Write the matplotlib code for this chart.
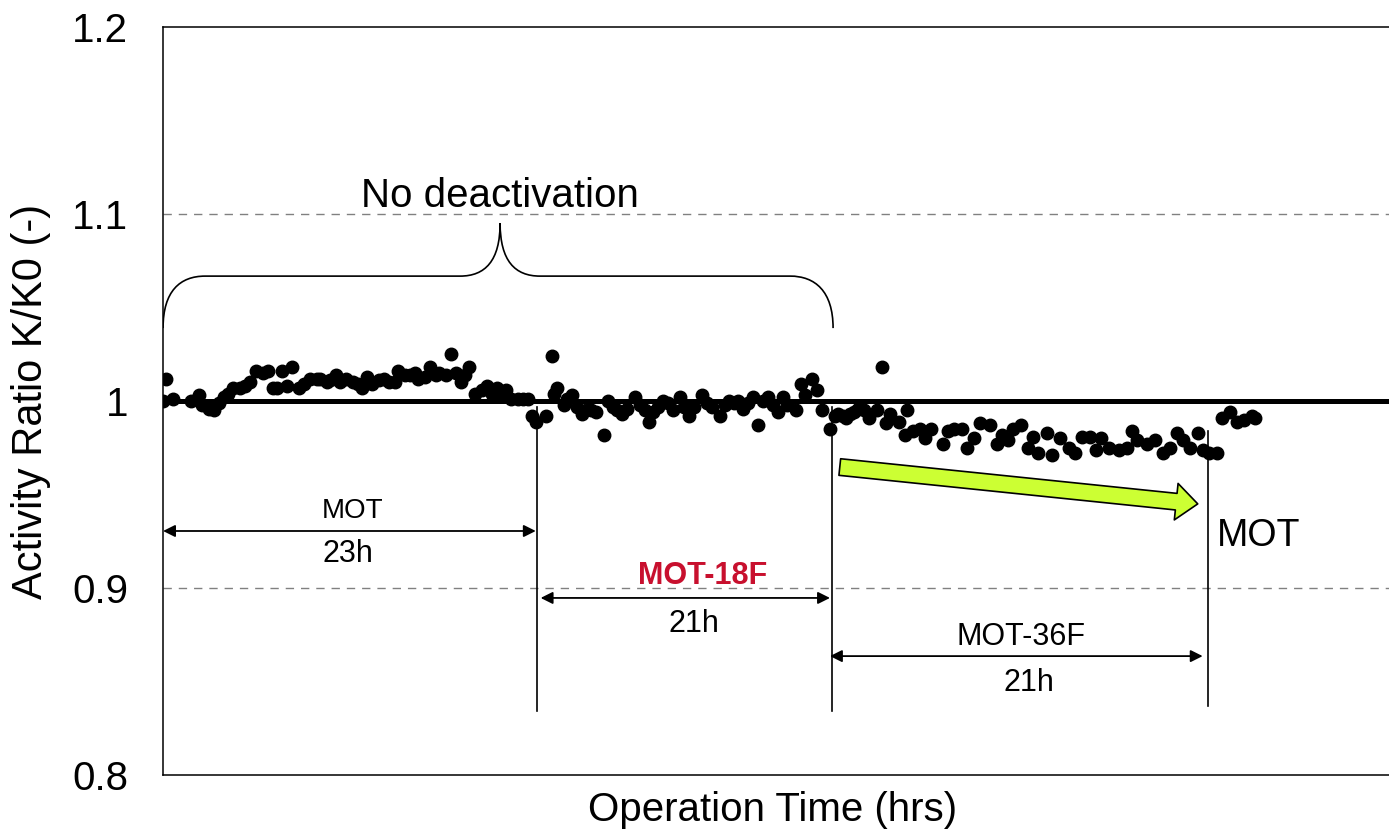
import numpy as np
import matplotlib
matplotlib.use("Agg")
import matplotlib.pyplot as plt
from matplotlib.path import Path
import matplotlib.patches as mpatches

plt.rcParams['font.family'] = ['Liberation Sans', 'DejaVu Sans']

# operation time (h) and activity ratio K/K0
hrs_mot = [0.0, 0.2, 0.6, 1.7, 2.2, 2.4, 2.8, 3.1, 3.4, 3.7, 4.0, 4.3, 4.7, 5.0, 5.3,
           5.7, 6.1, 6.4, 6.7, 7.0, 7.3, 7.6, 7.9, 8.3, 8.6, 9.0, 9.4, 9.6, 10.0, 10.2,
           10.6, 10.8, 11.2, 11.6, 11.9, 12.2, 12.5, 12.8, 13.2, 13.5, 13.8, 14.2, 14.4,
           14.8, 15.1, 15.4, 15.6, 16.0, 16.3, 16.7, 16.9, 17.3, 17.6, 17.9, 18.2, 18.5,
           18.7, 19.1, 19.5, 19.8, 20.1, 20.4, 20.7, 21.0, 21.3, 21.7, 22.0, 22.3]
k_mot = [1.000, 1.012, 1.001, 1.000, 1.003, 0.998, 0.996, 0.995, 0.999, 1.002, 1.004,
         1.007, 1.007, 1.008, 1.010, 1.016, 1.015, 1.016, 1.007, 1.007, 1.016, 1.008,
         1.018, 1.007, 1.009, 1.012, 1.012, 1.012, 1.010, 1.011, 1.014, 1.010, 1.012,
         1.010, 1.009, 1.007, 1.013, 1.009, 1.011, 1.012, 1.010, 1.010, 1.016, 1.014,
         1.014, 1.015, 1.012, 1.013, 1.018, 1.014, 1.015, 1.014, 1.025, 1.015, 1.010,
         1.014, 1.018, 1.004, 1.006, 1.008, 1.004, 1.007, 1.004, 1.006, 1.001, 1.001,
         1.001, 1.001]

hrs_18f = [22.6, 22.8, 23.4, 23.8, 23.9, 24.1, 24.5, 24.7, 25.0, 25.3, 25.6, 26.0, 26.2,
           26.5, 27.0, 27.2, 27.5, 27.8, 28.1, 28.4, 28.9, 29.2, 29.5, 29.7, 30.0, 30.3,
           30.6, 30.9, 31.2, 31.6, 31.9, 32.2, 32.5, 33.0, 33.3, 33.6, 34.1, 34.4, 34.6,
           34.9, 35.2, 35.5, 35.8, 36.1, 36.4, 36.7, 37.0, 37.3, 37.6, 37.9, 38.2, 38.7,
           39.0, 39.3, 39.7, 40.0, 40.3, 40.8]
k_18f = [0.992, 0.989, 0.992, 1.024, 1.004, 1.007, 0.998, 1.001, 1.003, 0.997, 0.993,
         0.996, 0.995, 0.994, 0.982, 1.000, 0.997, 0.995, 0.993, 0.996, 1.002, 0.998,
         0.995, 0.989, 0.994, 0.997, 1.000, 0.999, 0.995, 1.002, 0.997, 0.992, 0.997,
         1.003, 0.999, 0.997, 0.992, 0.998, 1.000, 0.999, 1.000, 0.996, 0.999, 1.002,
         0.987, 1.000, 1.002, 0.998, 0.994, 1.002, 0.998, 0.995, 1.009, 1.003, 1.012,
         1.006, 0.995, 0.985]

hrs_36f = [41.1, 41.3, 41.6, 41.8, 42.0, 42.3, 42.5, 42.9, 43.2, 43.7, 44.0, 44.2, 44.5,
           45.0, 45.4, 45.5, 45.9, 46.3, 46.6, 47.0, 47.7, 48.0, 48.4, 48.9, 49.2, 49.6,
           50.0, 50.6, 51.0, 51.3, 51.7, 52.0, 52.5, 52.9, 53.2, 53.5, 54.1, 54.4, 54.9,
           55.4, 55.8, 56.2, 56.7, 57.1, 57.4, 57.9, 58.5, 59.0, 59.3, 59.6, 60.2, 60.7,
           61.2, 61.6, 62.0, 62.4, 62.8, 63.3, 63.6, 64.0, 64.5]
k_36f = [0.992, 0.993, 0.992, 0.991, 0.993, 0.994, 0.996, 0.995, 0.991, 0.995, 1.018,
         0.988, 0.993, 0.989, 0.982, 0.995, 0.984, 0.985, 0.980, 0.985, 0.977, 0.984,
         0.985, 0.985, 0.975, 0.980, 0.988, 0.987, 0.977, 0.982, 0.979, 0.985, 0.987,
         0.975, 0.981, 0.972, 0.983, 0.971, 0.980, 0.975, 0.972, 0.981, 0.981, 0.974,
         0.980, 0.975, 0.974, 0.975, 0.984, 0.979, 0.977, 0.979, 0.972, 0.975, 0.983,
         0.979, 0.975, 0.983, 0.974, 0.972, 0.972]

hrs_mot2 = [64.8, 65.3, 65.7, 66.1, 66.6, 66.8]
k_mot2 = [0.991, 0.994, 0.989, 0.990, 0.992, 0.991]

yticks = [0.8, 0.9, 1.0, 1.1, 1.2]
ytick_labels = ['0.8', '0.9', '1', '1.1', '1.2']

fig = plt.figure(figsize=(13.89, 8.34), dpi=100)
ax = fig.add_axes([0.1174, 0.0707, 0.8826, 0.8969])

ax.set_xlim(0, 75)
ax.set_ylim(0.8, 1.2)
ax.set_yticks(yticks)
ax.set_yticklabels(ytick_labels)
ax.set_xticks([])
ax.tick_params(axis='y', length=0, pad=25, labelsize=29)
for s in ['left', 'top', 'bottom']:
    ax.spines[s].set_linewidth(1.1)
ax.spines['right'].set_visible(False)

for g in [0.9, 1.1]:
    ax.axhline(g, color='#808080', lw=1, ls=(0, (6, 5)), zorder=1)
ax.axhline(1.0, color='black', lw=3.6, zorder=2)

for hx, ky in [(hrs_mot, k_mot), (hrs_18f, k_18f), (hrs_36f, k_36f), (hrs_mot2, k_mot2)]:
    ax.plot(hx, ky, 'o', color='black', ms=9, zorder=3)

# phase boundaries
ax.plot([22.9, 22.9], [0.997, 0.834], color='black', lw=1.2)
ax.plot([40.9, 40.9], [0.997, 0.834], color='black', lw=1.2)
ax.plot([63.9, 63.9], [0.984, 0.837], color='black', lw=1.2)

arrow_kw = dict(arrowstyle='<|-|>', color='black', lw=1.3, mutation_scale=18,
                shrinkA=0, shrinkB=0)
ax.annotate('', xy=(22.8, 0.9305), xytext=(0.0, 0.9305), arrowprops=arrow_kw)
ax.annotate('', xy=(40.8, 0.8947), xytext=(23.1, 0.8947), arrowprops=arrow_kw)
ax.annotate('', xy=(63.6, 0.8636), xytext=(40.8, 0.8636), arrowprops=arrow_kw)

ax.text(11.6, 0.941, 'MOT', fontsize=20, ha='center', va='center')
ax.text(11.3, 0.918, '23h', fontsize=22, ha='center', va='center')
ax.text(33.0, 0.9064, 'MOT-18F', fontsize=22, ha='center', va='center',
        color='#C8102E', fontweight='bold')
ax.text(32.5, 0.881, '21h', fontsize=22, ha='center', va='center')
ax.text(52.5, 0.874, 'MOT-36F', fontsize=22, ha='center', va='center')
ax.text(53.0, 0.849, '21h', fontsize=22, ha='center', va='center')
ax.text(64.5, 0.928, 'MOT', fontsize=27, ha='left', va='center')

# deactivation trend arrow
trend = mpatches.FancyArrowPatch((41.4, 0.9647), (63.3, 0.945),
                                 arrowstyle='simple,head_width=2.2,head_length=1.3,tail_width=1.0',
                                 mutation_scale=12, facecolor='#CCFF33', edgecolor='black',
                                 lw=1.2, shrinkA=0, shrinkB=0, zorder=4)
ax.add_patch(trend)

# brace over the first two phases
verts = [(0, 1.039), (0, 1.0588), (1.04, 1.0668), (2.57, 1.0668),
         (18.17, 1.0668),
         (19.7, 1.0668), (20.62, 1.0749), (20.62, 1.0952),
         (20.62, 1.0749), (21.53, 1.0668), (23.06, 1.0668),
         (38.36, 1.0668),
         (39.88, 1.0668), (40.99, 1.0588), (40.99, 1.039)]
codes = [Path.MOVETO, Path.CURVE4, Path.CURVE4, Path.CURVE4,
         Path.LINETO,
         Path.CURVE4, Path.CURVE4, Path.CURVE4,
         Path.CURVE4, Path.CURVE4, Path.CURVE4,
         Path.LINETO,
         Path.CURVE4, Path.CURVE4, Path.CURVE4]
ax.add_patch(mpatches.PathPatch(Path(verts, codes), facecolor='none', edgecolor='black', lw=1.2))
ax.text(20.6, 1.1096, 'No deactivation', fontsize=29, ha='center', va='center')

ax.set_ylabel('Activity Ratio K/K0 (-)', fontsize=30, va='center')
ax.yaxis.set_label_coords(-0.108, 0.5)
ax.set_xlabel('Operation Time (hrs)', fontsize=29, va='top')
ax.xaxis.set_label_coords(0.497, -0.022)

fig.savefig('out.png', dpi=100)
